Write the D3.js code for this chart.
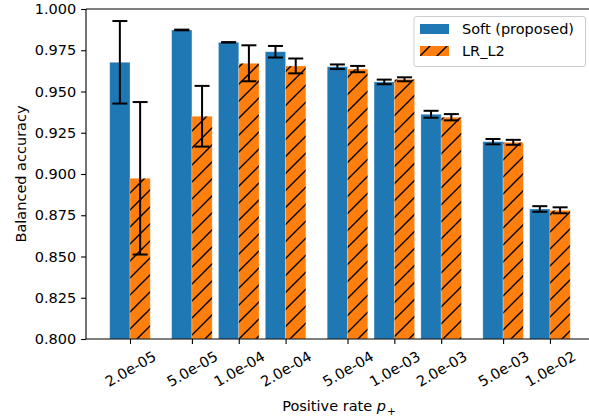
<!DOCTYPE html>
<html>
<head>
<meta charset="utf-8">
<script src="https://cdn.jsdelivr.net/npm/d3@7"></script>
<style>
  html, body { margin: 0; padding: 0; background: #fff; }
  svg { display: block; font-family: "DejaVu Sans", sans-serif; }
</style>
</head>
<body>
<svg id="chart" width="589" height="420"></svg>
<script>
// ---- data ----
const categories = ["2.0e-05", "5.0e-05", "1.0e-04", "2.0e-04", "5.0e-04", "1.0e-03", "2.0e-03", "5.0e-03", "1.0e-02"];
const rates = [2e-5, 5e-5, 1e-4, 2e-4, 5e-4, 1e-3, 2e-3, 5e-3, 1e-2];
const softMean = [0.9677, 0.9873, 0.9798, 0.9741, 0.9650, 0.9558, 0.9362, 0.9196, 0.8788];
const softErr  = [0.0250, 0.0002, 0.0001, 0.0035, 0.0014, 0.0014, 0.0021, 0.0016, 0.0017];
const lrMean   = [0.8974, 0.9350, 0.9671, 0.9655, 0.9636, 0.9574, 0.9344, 0.9192, 0.8780];
const lrErr    = [0.0462, 0.0184, 0.0109, 0.0045, 0.0019, 0.0012, 0.0019, 0.0015, 0.0018];
const yTicks = [0.800, 0.825, 0.850, 0.875, 0.900, 0.925, 0.950, 0.975, 1.000];
const seriesNames = ["Soft (proposed)", "LR_L2"];

// ---- layout ----
const svg = d3.select("#chart");
const pL = 86, pR = 592, pT = 9, pB = 339;
const fontSize = 14.5;
const blue = "#1f77b4", orange = "#ff7f0e";

const x = d3.scaleLog().domain([1.043e-5, 1.863e-2]).range([pL, pR]);
const y = d3.scaleLinear().domain([0.8, 1.0]).range([pB, pT]);
const barFactor = 1.35;

// hatch pattern
const defs = svg.append("defs");
const pat = defs.append("pattern")
  .attr("id", "hatch").attr("patternUnits", "userSpaceOnUse")
  .attr("width", 17).attr("height", 17);
pat.append("rect").attr("width", 17).attr("height", 17).attr("fill", orange);
pat.append("path")
  .attr("d", "M0,17 L17,0 M-4.25,4.25 L4.25,-4.25 M12.75,21.25 L21.25,12.75")
  .attr("stroke", "#000").attr("stroke-width", 1.4).attr("fill", "none");

const clip = defs.append("clipPath").attr("id", "plotclip");
clip.append("rect").attr("x", pL).attr("y", pT).attr("width", pR - pL).attr("height", pB - pT);

const plot = svg.append("g").attr("clip-path", "url(#plotclip)");

// bars
plot.selectAll("rect.soft").data(rates).join("rect")
  .attr("class", "soft")
  .attr("x", d => x(d / barFactor))
  .attr("width", d => x(d) - x(d / barFactor))
  .attr("y", (d, i) => y(softMean[i]))
  .attr("height", (d, i) => y(0.8) - y(softMean[i]))
  .attr("fill", blue)
  .attr("stroke", "#fff").attr("stroke-opacity", 0.35).attr("stroke-width", 0.8);

plot.selectAll("rect.lr").data(rates).join("rect")
  .attr("class", "lr")
  .attr("x", d => x(d))
  .attr("width", d => x(d * barFactor) - x(d))
  .attr("y", (d, i) => y(lrMean[i]))
  .attr("height", (d, i) => y(0.8) - y(lrMean[i]))
  .attr("fill", "url(#hatch)")
  .attr("stroke", "#fff").attr("stroke-opacity", 0.35).attr("stroke-width", 0.8);

// error bars
function errorBars(cls, cxFn, means, errs) {
  const g = plot.append("g").attr("class", cls)
    .attr("stroke", "#000").attr("stroke-width", 2).attr("fill", "none");
  const cap = 7.5;
  rates.forEach((d, i) => {
    const cx = cxFn(d);
    const y1 = y(means[i] + errs[i]), y2 = y(means[i] - errs[i]);
    g.append("line").attr("x1", cx).attr("x2", cx).attr("y1", y1).attr("y2", y2);
    g.append("line").attr("x1", cx - cap).attr("x2", cx + cap).attr("y1", y1).attr("y2", y1);
    g.append("line").attr("x1", cx - cap).attr("x2", cx + cap).attr("y1", y2).attr("y2", y2);
  });
}
errorBars("err-soft", d => (x(d / barFactor) + x(d)) / 2, softMean, softErr);
errorBars("err-lr", d => (x(d) + x(d * barFactor)) / 2, lrMean, lrErr);

// spines
const spines = svg.append("g").attr("stroke", "#000").attr("stroke-width", 1.1).attr("fill", "none");
spines.append("line").attr("x1", pL).attr("x2", pL).attr("y1", pT).attr("y2", pB);
spines.append("line").attr("x1", pL).attr("x2", pR).attr("y1", pT).attr("y2", pT);
spines.append("line").attr("x1", pL).attr("x2", pR).attr("y1", pB).attr("y2", pB);
spines.append("line").attr("x1", pR).attr("x2", pR).attr("y1", pT).attr("y2", pB);

// y axis
const yAxis = d3.axisLeft(y).tickValues(yTicks).tickFormat(d3.format(".3f"))
  .tickSize(4.9).tickPadding(4.9).tickSizeOuter(0);
const yg = svg.append("g").attr("transform", `translate(${pL},0)`).call(yAxis);
yg.select(".domain").remove();
yg.selectAll(".tick line").attr("stroke", "#000").attr("stroke-width", 1.1);
yg.selectAll(".tick text").attr("fill", "#000").style("font-size", fontSize + "px")
  .style("font-family", "DejaVu Sans");

// x axis
const xAxis = d3.axisBottom(x).tickValues(rates).tickFormat((d, i) => categories[i])
  .tickSize(4.9).tickSizeOuter(0);
const xg = svg.append("g").attr("transform", `translate(0,${pB})`).call(xAxis);
xg.select(".domain").remove();
xg.selectAll(".tick line").attr("stroke", "#000").attr("stroke-width", 1.1);
xg.selectAll(".tick text")
  .attr("fill", "#000").style("font-size", fontSize + "px").style("font-family", "DejaVu Sans")
  .attr("text-anchor", "middle")
  .attr("y", 0).attr("dy", "0.35em")
  .attr("transform", "translate(0,30) rotate(-30)");

// axis labels
const xl = svg.append("text")
  .attr("x", (pL + pR) / 2).attr("y", 411)
  .attr("text-anchor", "middle").style("font-size", fontSize + "px").attr("fill", "#000");
xl.append("tspan").text("Positive rate ");
xl.append("tspan").style("font-style", "italic").text("p");
xl.append("tspan").attr("dy", 3.5).attr("dx", 1).style("font-size", "10.5px").text("+");

svg.append("text")
  .attr("transform", `translate(25.5,${(pT + pB) / 2}) rotate(-90)`)
  .attr("text-anchor", "middle").style("font-size", fontSize + "px").attr("fill", "#000")
  .text("Balanced accuracy");

// legend
const lg = svg.append("g");
lg.append("rect").attr("x", 414).attr("y", 16.5).attr("width", 171.5).attr("height", 50)
  .attr("rx", 2.5).attr("fill", "#fff").attr("fill-opacity", 0.8)
  .attr("stroke", "#cccccc").attr("stroke-width", 1);
const fills = [blue, "url(#hatch)"];
seriesNames.forEach((name, i) => {
  const ry = 24 + i * 22;
  lg.append("rect").attr("x", 420).attr("y", ry).attr("width", 29).attr("height", 10)
    .attr("fill", fills[i]);
  lg.append("text").attr("x", 462).attr("y", ry + 5).attr("dy", "0.35em")
    .style("font-size", fontSize + "px").attr("fill", "#000").text(name);
});
</script>
</body>
</html>
